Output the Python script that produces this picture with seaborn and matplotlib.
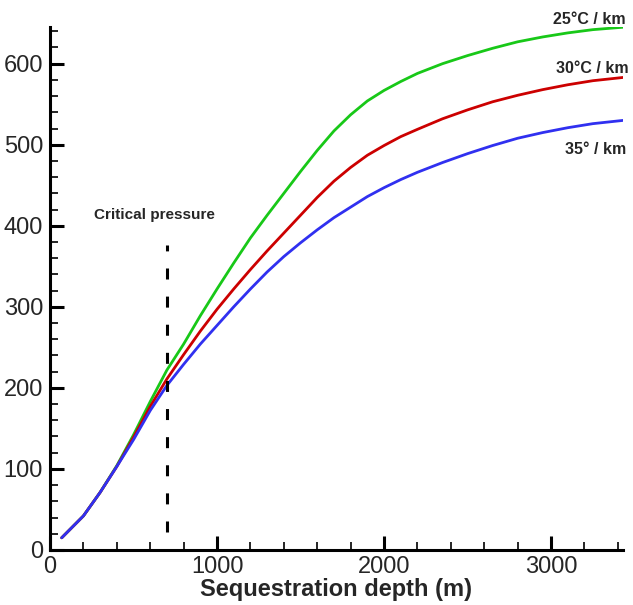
import numpy as np
import pandas as pd
import matplotlib
matplotlib.use("Agg")
import matplotlib.pyplot as plt
from matplotlib.ticker import MultipleLocator
import seaborn as sns

depth = [70, 200, 300, 400, 500, 600, 700, 800, 900, 1000, 1100, 1200,
         1300, 1400, 1500, 1600, 1700, 1800, 1900, 2000, 2100, 2200,
         2350, 2500, 2650, 2800, 2950, 3100, 3250, 3430]
# one curve per geothermal gradient
grad_25 = [15, 42, 71, 104, 142, 183, 222, 254, 289, 322, 354, 385,
           413, 440, 467, 493, 517, 537, 554, 567, 578, 588,
           600, 610, 619, 627, 633, 638, 642, 645]
grad_30 = [15, 42, 71, 103, 139, 177, 211, 241, 270, 297, 322, 346,
           369, 391, 413, 435, 455, 472, 487, 499, 510, 519,
           532, 543, 553, 561, 568, 574, 579, 583]
grad_35 = [15, 42, 71, 103, 136, 172, 203, 229, 254, 277, 300, 322,
           343, 362, 379, 395, 410, 423, 436, 447, 457, 466,
           478, 489, 499, 508, 515, 521, 526, 530]
series_names = ["25°C / km", "30°C / km", "35° / km"]
series_colors = ["#18c818", "#cc0000", "#3030f0"]
# where the curve labels sit (depth, value)
label_x = [3227, 3250, 3266]
label_y = [654, 594, 494]

crit_depth = 700
crit_range = [22, 376]
crit_text = "Critical pressure"
crit_text_pos = (628, 413)

n = len(depth)
df = pd.DataFrame({
    "depth": depth * 3,
    "value": grad_25 + grad_30 + grad_35,
    "gradient": [series_names[0]] * n + [series_names[1]] * n + [series_names[2]] * n,
})

sns.set_style("ticks")
plt.rcParams["font.family"] = ["Liberation Sans", "DejaVu Sans"]

fig = plt.figure(figsize=(6.33, 6.05), dpi=100)
ax = fig.add_axes([0.079, 0.091, 0.905, 0.864])

sns.lineplot(data=df, x="depth", y="value", hue="gradient",
             palette=dict(zip(series_names, series_colors)),
             linewidth=2, legend=False, ax=ax)

# critical pressure marker
ax.plot([crit_depth, crit_depth], crit_range, color="black", lw=2.2,
        dashes=(3.6, 5.6))
ax.text(crit_text_pos[0], crit_text_pos[1], crit_text, ha="center",
        va="center", fontsize=11, fontweight="bold")

for name, lx, ly in zip(series_names, label_x, label_y):
    ax.text(lx, ly, name, ha="center", va="center", fontsize=11.5,
            fontweight="bold", clip_on=False)

ax.set_xlim(0, 3430)
ax.set_ylim(0, 645)
ax.xaxis.set_major_locator(MultipleLocator(1000))
ax.xaxis.set_minor_locator(MultipleLocator(200))
ax.yaxis.set_major_locator(MultipleLocator(100))
ax.yaxis.set_minor_locator(MultipleLocator(20))

sns.despine(ax=ax)
for side in ["left", "bottom"]:
    ax.spines[side].set_linewidth(2.2)
    ax.spines[side].set_color("black")

ax.tick_params(which="major", direction="in", length=10, width=2.2,
               labelsize=17, color="black")
ax.tick_params(which="minor", direction="in", length=6, width=1.2,
               color="black")
ax.tick_params(axis="x", which="major", pad=4)
ax.tick_params(axis="y", which="major", pad=5)

ax.set_xlabel("Sequestration depth (m)", fontsize=17, fontweight="bold",
              labelpad=0)
ax.set_ylabel("")

fig.savefig("out.png", dpi=100)
